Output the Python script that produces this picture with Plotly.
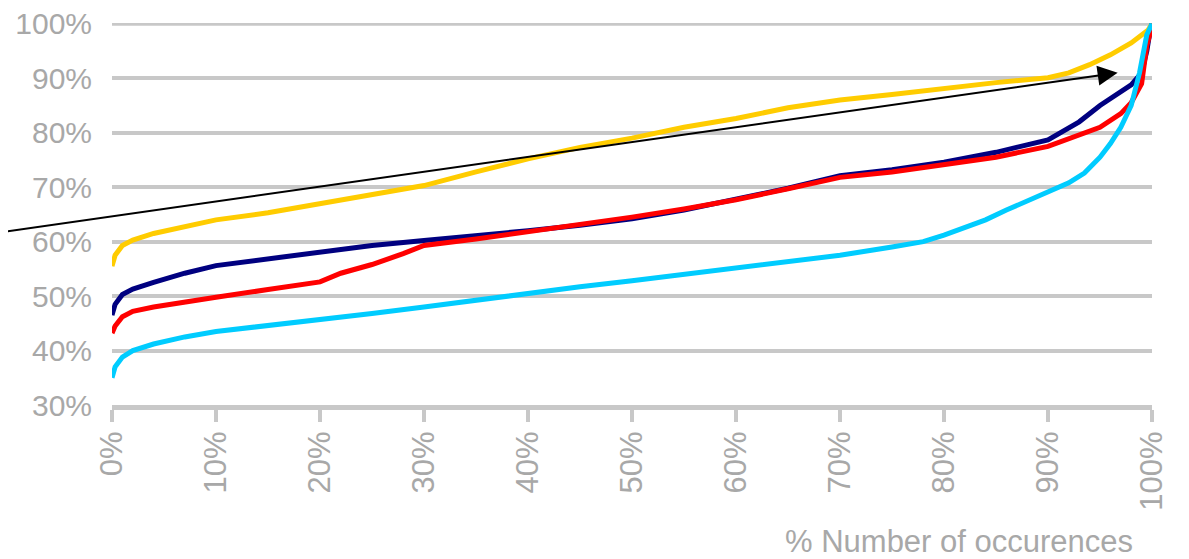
import plotly.graph_objects as go

# % number of occurrences (x) and cumulative values (y)
yellow_x = [0, 0.3, 1, 2, 4, 7, 10, 15, 20, 25, 30, 35, 40, 45, 50, 55, 60, 65, 70, 75, 80, 85, 90, 92, 94, 96, 98, 99, 99.6, 100]
yellow_y = [55.5, 57.5, 59.3, 60.3, 61.5, 62.8, 64.0, 65.3, 67.0, 68.5, 70.3, 72.8, 75.2, 77.3, 79.0, 81.0, 82.6, 84.6, 86.0, 87.0, 88.2, 89.2, 90.1, 91.0, 92.5, 94.3, 96.5, 97.8, 98.8, 100]

navy_x = [0, 0.3, 1, 2, 4, 7, 10, 15, 20, 25, 30, 35, 40, 45, 50, 55, 60, 65, 70, 75, 80, 85, 90, 93, 95, 97, 98, 99, 99.5, 99.8, 100]
navy_y = [46.5, 48.5, 50.3, 51.3, 52.5, 54.2, 55.6, 56.9, 58.2, 59.3, 60.2, 61.0, 62.0, 63.0, 64.2, 65.8, 67.7, 69.8, 72.1, 73.2, 74.6, 76.4, 78.7, 82.0, 85.0, 87.5, 88.8, 91.0, 95.0, 98.5, 100]

red_x = [0, 0.3, 1, 2, 4, 7, 10, 15, 20, 22, 25, 28, 30, 35, 40, 45, 50, 55, 60, 65, 70, 75, 80, 85, 90, 93, 95, 97, 98, 99, 99.5, 100]
red_y = [43.2, 44.5, 46.2, 47.2, 48.0, 49.0, 49.8, 51.2, 52.6, 54.2, 55.8, 57.8, 59.3, 60.5, 61.8, 63.0, 64.5, 66.0, 67.7, 69.7, 71.8, 72.8, 74.2, 75.5, 77.5, 79.5, 81.0, 83.5, 85.5, 89.0, 96.0, 99.5]

cyan_x = [0, 0.3, 1, 2, 4, 7, 10, 15, 20, 25, 30, 35, 40, 45, 50, 55, 60, 65, 70, 75, 78, 80, 82, 84, 86, 88, 90, 92, 93.5, 95, 96, 97, 98, 98.8, 99.5, 100]
cyan_y = [35.0, 37.0, 38.8, 40.0, 41.2, 42.5, 43.5, 44.6, 45.5, 46.8, 48.0, 49.3, 50.6, 51.7, 52.8, 54.0, 55.2, 56.3, 57.5, 59.0, 60.0, 61.2, 62.5, 64.0, 65.8, 67.5, 69.0, 70.8, 72.6, 75.5, 78.0, 81.0, 85.0, 91.0, 98.0, 100]

x_ticks = [0, 10, 20, 30, 40, 50, 60, 70, 80, 90, 100]
x_tick_labels = [f"{v}%" for v in x_ticks]
y_ticks = [30, 40, 50, 60, 70, 80, 90, 100]
y_tick_labels = [f"{v}%" for v in y_ticks]

series = [
    ("yellow", yellow_x, yellow_y, "#FFCC00"),
    ("navy", navy_x, navy_y, "#000080"),
    ("red", red_x, red_y, "#FF0000"),
    ("cyan", cyan_x, cyan_y, "#00CCFF"),
]

FONT = "Arial, Liberation Sans, sans-serif"
GRID = "#c8c8c8"
TEXT = "#a8a8a8"

fig = go.Figure()
for name, xs, ys, col in series:
    fig.add_trace(go.Scatter(x=xs, y=ys, mode="lines", name=name,
                             line=dict(color=col, width=5), showlegend=False))

fig.update_layout(
    width=1181, height=551,
    margin=dict(l=104, r=37, t=15, b=154, autoexpand=False),
    paper_bgcolor="white", plot_bgcolor="white",
    font=dict(family=FONT, color=TEXT, size=30),
    xaxis=dict(range=[0, 100], tickvals=x_ticks, ticktext=x_tick_labels,
               tickangle=-90, showgrid=False, zeroline=False, automargin=False,
               showline=True, linecolor=GRID, linewidth=5,
               ticks="outside", ticklen=12, tickwidth=4, tickcolor=GRID,
               ticklabelstandoff=-3, ticklabeloverflow="allow",
               tickfont=dict(size=31, color=TEXT, family=FONT)),
    yaxis=dict(range=[30, 100.15], tickvals=y_ticks, ticktext=y_tick_labels,
               showgrid=True, gridcolor=GRID, gridwidth=4, zeroline=False,
               automargin=False, ticklabeloverflow="allow",
               showline=False, ticks="", ticklabelstandoff=19,
               tickfont=dict(size=30, color=TEXT, family=FONT)),
)

# top gridline at the 100% tick
fig.add_shape(type="line", xref="paper", yref="y", x0=0, x1=1,
              y0=y_ticks[-1], y1=y_ticks[-1], layer="below",
              line=dict(color=GRID, width=4))

fig.add_annotation(x=96.7, y=91.0, ax=-10.8, ay=61.7, xref="x", yref="y",
                   axref="x", ayref="y", text="", showarrow=True,
                   arrowhead=2, arrowsize=2, arrowwidth=2, arrowcolor="black",
                   standoff=0, startstandoff=0)

fig.add_annotation(x=0.9837, y=-0.357, xref="paper", yref="paper",
                   xanchor="right", yanchor="middle", showarrow=False,
                   text="% Number of occurences",
                   font=dict(size=31, color=TEXT, family=FONT))

fig.write_html("out.html")
